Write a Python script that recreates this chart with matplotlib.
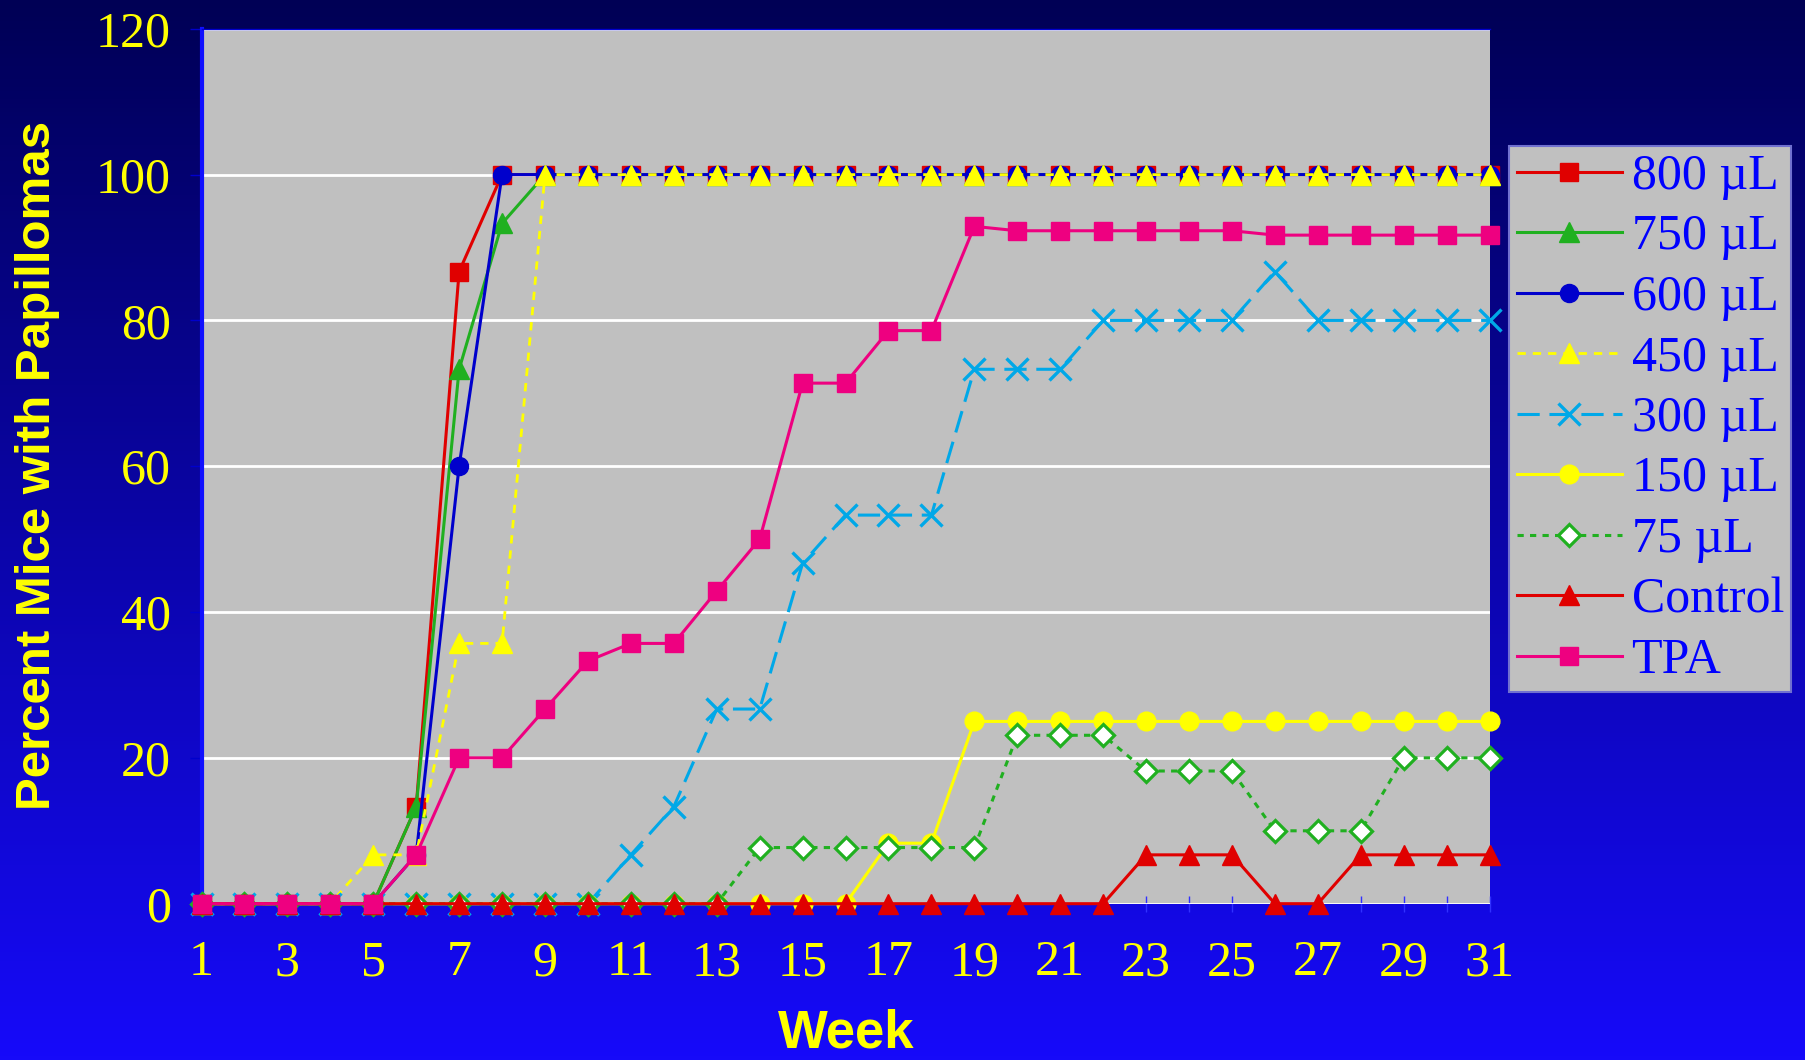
import numpy as np
import matplotlib
matplotlib.use('Agg')
import matplotlib.pyplot as plt

plt.rcParams['lines.scale_dashes'] = False

# percent of mice with papillomas, weeks 1..31
weeks = list(range(1, 32))
ul800 = [0, 0, 0, 0, 0, 13.3, 86.7, 100] + [100] * 23
ul750 = [0, 0, 0, 0, 0, 13.3, 73.3, 93.3, 100] + [100] * 22
ul600 = [0, 0, 0, 0, 0, 6.7, 60, 100] + [100] * 23
ul450 = [0, 0, 0, 0, 6.7, 6.7, 35.7, 35.7, 100] + [100] * 22
ul300 = [0] * 10 + [6.7, 13.3, 26.7, 26.7, 46.7, 53.3, 53.3, 53.3, 73.3, 73.3, 73.3,
                    80, 80, 80, 80, 86.7, 80, 80, 80, 80, 80]
ul150 = [0] * 16 + [8.3, 8.3] + [25] * 13
ul75 = [0] * 13 + [7.7] * 6 + [23.1] * 3 + [18.2] * 3 + [10] * 3 + [20] * 3
control = [0] * 22 + [6.7, 6.7, 6.7, 0, 0, 6.7, 6.7, 6.7, 6.7]
tpa = [0, 0, 0, 0, 0, 6.7, 20, 20, 26.7, 33.3, 35.7, 35.7, 42.9, 50, 71.4, 71.4,
       78.6, 78.6, 92.9, 92.3, 92.3, 92.3, 92.3, 92.3, 92.3, 91.7, 91.7, 91.7, 91.7,
       91.7, 91.7]

yticks = [0, 20, 40, 60, 80, 100, 120]
xlabels = [str(w) if w % 2 == 1 else '' for w in weeks]

W, H = 1805, 1060
fig = plt.figure(figsize=(W / 100, H / 100), dpi=100)

# blue gradient background
top = np.array([0, 0, 85]) / 255
bot = np.array([22, 10, 250]) / 255
g = np.linspace(0, 1, 256)[:, None, None]
img = top + (bot - top) * g
bg = fig.add_axes([0, 0, 1, 1], zorder=-10)
bg.imshow(img, aspect='auto', extent=[0, 1, 0, 1])
bg.axis('off')

l, r, t, b = 201.5, 1489.6, 28.8, 903.7
ax = fig.add_axes([l / W, 1 - b / H, (r - l) / W, (b - t) / H], zorder=1)
ax.set_facecolor('#C0C0C0')

series = [
    (ul800, '800 µL', dict(color='#E00000', marker='s', ms=13, lw=2.2)),
    (ul750, '750 µL', dict(color='#20B020', marker='^', ms=14.5, lw=2.2)),
    (ul600, '600 µL', dict(color='#0000CC', marker='o', ms=13, lw=2.2)),
    (ul450, '450 µL', dict(color='#FFFF00', marker='^', ms=14.5, lw=2, dashes=(6, 5))),
    (ul300, '300 µL', dict(color='#00A8E8', marker='x', ms=15.5, mew=2.4, lw=2.2, dashes=(16, 7))),
    (ul150, '150 µL', dict(color='#FFFF00', marker='o', ms=13.5, lw=2.2)),
    (ul75, '75 µL', dict(color='#20B020', marker='D', ms=11.5, mew=2.3, mfc='white', lw=2.2, dashes=(4.5, 4.5))),
    (control, 'Control', dict(color='#E00000', marker='^', ms=14.5, lw=2.2)),
    (tpa, 'TPA', dict(color='#EE0080', marker='s', ms=13, lw=2.2)),
]
for i, (vals, name, kw) in enumerate(series):
    ax.plot(weeks, vals, label=name, clip_on=False, zorder=3 + i, **kw)

ax.set_xlim(1, 31)
ax.set_ylim(0, 120)
ax.set_yticks(yticks)
ax.set_xticks(weeks)
ax.set_xticklabels(xlabels)
ax.yaxis.grid(True, color='white', lw=2)
ax.set_axisbelow(True)

for s in ['right', 'bottom']:
    ax.spines[s].set_visible(False)
ax.spines['left'].set_color('#1010FF')
ax.spines['left'].set_linewidth(3)
ax.spines['top'].set_color('#0000CC')
ax.spines['top'].set_linewidth(1)

ax.tick_params(axis='y', direction='out', length=9, width=1, color='#0000CC',
               pad=13, labelsize=36, labelcolor='#FFFF00')
ax.tick_params(axis='x', direction='inout', length=12, width=1, color='#3030FF',
               pad=20, labelsize=36, labelcolor='#FFFF00')
for lab in ax.get_xticklabels() + ax.get_yticklabels():
    lab.set_family('Liberation Serif')

fig.text(38 / W, 1 - 465 / H, 'Percent Mice with Papillomas', rotation=90,
         ha='center', va='center', color='#FFFF00', fontsize=35.5,
         fontweight='bold', family='Liberation Sans')
fig.text(846 / W, 2 / H, 'Week', ha='center', va='bottom',
         color='#FFFF00', fontsize=38, fontweight='bold', family='Liberation Sans')

leg = ax.legend(loc='upper left', bbox_to_anchor=(1509 / W, 1 - 146 / H),
                bbox_transform=fig.transFigure, prop={'family': 'Liberation Serif', 'size': 36},
                labelcolor='#0000FF', handlelength=2.1, handletextpad=0.2,
                labelspacing=0.28, borderpad=0.15, borderaxespad=0, fancybox=False,
                facecolor='#C0C0C0', edgecolor='#7070D0', framealpha=1)
leg.get_frame().set_linewidth(1.5)

fig.savefig('out.png', dpi=100)
